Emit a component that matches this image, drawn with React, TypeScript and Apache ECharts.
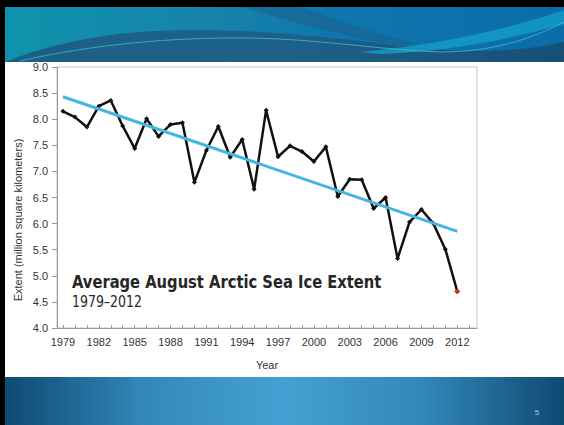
import React, { useEffect, useRef } from "react";
import * as echarts from "echarts";

const years: number[] = [
  1979, 1980, 1981, 1982, 1983, 1984, 1985, 1986, 1987, 1988, 1989, 1990,
  1991, 1992, 1993, 1994, 1995, 1996, 1997, 1998, 1999, 2000, 2001, 2002,
  2003, 2004, 2005, 2006, 2007, 2008, 2009, 2010, 2011, 2012,
];
const extent: number[] = [
  8.15, 8.04, 7.85, 8.25, 8.36, 7.87, 7.44, 8.01, 7.67, 7.9, 7.93, 6.79,
  7.4, 7.86, 7.27, 7.61, 6.66, 8.17, 7.28, 7.49, 7.38, 7.19, 7.47, 6.52,
  6.85, 6.84, 6.29, 6.5, 5.33, 6.03, 6.27, 6.0, 5.51, 4.7,
];
const trendYears: number[] = [1979, 2012];
const trendValues: number[] = [8.43, 5.85];
const xLabelYears: number[] = [1979, 1982, 1985, 1988, 1991, 1994, 1997, 2000, 2003, 2006, 2009, 2012];
const xTickYears: number[] = [
  1979, 1980, 1981, 1982, 1983, 1984, 1985, 1986, 1987, 1988, 1989, 1990,
  1991, 1992, 1993, 1994, 1995, 1996, 1997, 1998, 1999, 2000, 2001, 2002,
  2003, 2004, 2005, 2006, 2007, 2008, 2009, 2010, 2011, 2012, 2013,
];
const titleText = "Average August Arctic Sea Ice Extent";
const subtitleText = "1979\u20132012";
const yAxisName = "Extent (million square kilometers)";
const xAxisName = "Year";
const pageNumber = "5";

let registered = false;
function registerShapes() {
  if (registered) return;
  registered = true;
  echarts.graphic.registerShape(
    "waveDark",
    echarts.graphic.extendPath(
      "M5 62 C 50 44, 110 30, 190 30 C 280 30, 350 40, 420 48 C 480 54, 530 50, 564 42 L 564 62 Z",
      {}
    )
  );
  echarts.graphic.registerShape(
    "waveStreak",
    echarts.graphic.extendPath(
      "M240 7 L 300 7 C 340 20, 380 36, 420 44 L 400 46 C 340 36, 290 20, 240 7 Z",
      {}
    )
  );
  echarts.graphic.registerShape(
    "waveRight",
    echarts.graphic.extendPath(
      "M360 52 C 430 46, 500 32, 564 10 L 564 24 C 500 42, 440 52, 380 54 Z",
      {}
    )
  );
  echarts.graphic.registerShape(
    "waveLine1",
    echarts.graphic.extendPath(
      "M20 61 C 90 45, 170 37, 250 38 C 320 39, 380 50, 440 52 C 490 52, 530 40, 564 22",
      {}
    )
  );
}

export default function App() {
  const ref = useRef<HTMLDivElement>(null);
  useEffect(() => {
    if (!ref.current) return;
    registerShapes();
    const chart = echarts.init(ref.current, undefined, { renderer: "svg" });
    const LG = echarts.graphic.LinearGradient;
    const condensed = "'Liberation Sans Narrow', 'DejaVu Sans Condensed', 'Roboto Condensed', sans-serif";
    const option: any = {
      animation: false,
      backgroundColor: "#ffffff",
      grid: { left: 57, top: 67, width: 420, height: 261, show: true, borderColor: "#c4c4c4", borderWidth: 1, backgroundColor: "transparent" },
      xAxis: {
        type: "value",
        min: 1978.5,
        max: 2013.65,
        name: xAxisName,
        nameLocation: "middle",
        nameGap: 31,
        nameTextStyle: { color: "#333", fontSize: 11, fontFamily: "Liberation Sans, Arial, sans-serif" },
        axisLine: { show: true, lineStyle: { color: "#999", width: 1 } },
        axisTick: { show: true, inside: true, length: 3, customValues: xTickYears, lineStyle: { color: "#999" } },
        axisLabel: {
          customValues: xLabelYears,
          margin: 8,
          color: "#333",
          fontSize: 11,
          fontFamily: "Liberation Sans, Arial, sans-serif",
          formatter: (v: number) => String(v),
        },
        splitLine: { show: false },
      },
      yAxis: {
        type: "value",
        min: 4,
        max: 9,
        interval: 0.5,
        axisLine: { show: true, lineStyle: { color: "#999", width: 1 } },
        axisTick: { show: true, length: 5, lineStyle: { color: "#999" } },
        axisLabel: {
          margin: 9,
          color: "#333",
          fontSize: 11,
          fontFamily: "Liberation Sans, Arial, sans-serif",
          formatter: (v: number) => v.toFixed(1),
        },
        splitLine: { show: false },
      },
      series: [
        {
          type: "line",
          data: years.map((y, i) => ({
            value: [y, extent[i]],
            itemStyle: i === years.length - 1 ? { color: "#c8321e", borderColor: "#c8321e" } : undefined,
          })),
          lineStyle: { color: "#111", width: 2.5 },
          itemStyle: { color: "#111" },
          symbol: "diamond",
          symbolSize: 5,
          z: 2,
        },
        {
          type: "line",
          data: trendYears.map((y, i) => [y, trendValues[i]]),
          lineStyle: { color: "#45b6e0", width: 3 },
          symbol: "none",
          z: 3,
        },
      ],
      graphic: [
        { type: "rect", z: -10, shape: { x: 0, y: 0, width: 564, height: 7 }, style: { fill: "#000" }, silent: true },
        { type: "rect", z: -10, shape: { x: 0, y: 0, width: 5, height: 425 }, style: { fill: "#000" }, silent: true },
        {
          type: "rect", z: -9, silent: true,
          shape: { x: 5, y: 7, width: 559, height: 55 },
          style: {
            fill: new LG(0, 0, 1, 0, [
              { offset: 0, color: "#0f93ac" },
              { offset: 0.35, color: "#1684aa" },
              { offset: 0.6, color: "#0f76ad" },
              { offset: 1, color: "#0a6ca8" },
            ]),
          },
        },
        { type: "waveStreak", z: -8, silent: true, style: { fill: "#1f5f8c", opacity: 0.55 } },
        {
          type: "waveDark", z: -8, silent: true,
          style: {
            fill: new LG(0, 0, 1, 0, [
              { offset: 0, color: "#1c5e86" },
              { offset: 0.5, color: "#1d6189" },
              { offset: 1, color: "#174f75" },
            ]),
          },
        },
        { type: "waveRight", z: -7, silent: true, style: { fill: "#16a2cc", opacity: 0.75 } },
        { type: "waveLine1", z: -7, silent: true, style: { fill: "none", stroke: "#4cc4d6", lineWidth: 1, opacity: 0.7 } },
        {
          type: "rect", z: -9, silent: true,
          shape: { x: 5, y: 377, width: 559, height: 48 },
          style: {
            fill: new LG(0, 0, 1, 0, [
              { offset: 0, color: "#0e4a72" },
              { offset: 0.25, color: "#3388bb" },
              { offset: 0.5, color: "#45a1d3" },
              { offset: 0.75, color: "#3287b9" },
              { offset: 1, color: "#0f4a71" },
            ]),
          },
        },
        {
          type: "text", silent: true, x: 537, y: 412,
          style: { text: pageNumber, fill: "#9fd3ea", fontSize: 8, fontFamily: "Liberation Sans, Arial, sans-serif", align: "center", verticalAlign: "middle" },
        },
        {
          type: "text", silent: true, x: 18, y: 220, rotation: Math.PI / 2,
          style: {
            text: yAxisName, fill: "#333", fontSize: 11,
            fontFamily: "Liberation Sans, Arial, sans-serif",
            align: "center", verticalAlign: "middle",
          },
        },
        {
          type: "text", silent: true, x: 72, y: 282, scaleX: 0.91,
          style: {
            text: titleText, fill: "#262626", fontSize: 18, fontWeight: "bold",
            fontFamily: condensed,
            align: "left", verticalAlign: "middle",
          },
        },
        {
          type: "text", silent: true, x: 72, y: 302, scaleX: 0.87,
          style: {
            text: subtitleText, fill: "#262626", fontSize: 16,
            fontFamily: condensed,
            align: "left", verticalAlign: "middle",
          },
        },
      ],
    };
    chart.setOption(option);
    return () => chart.dispose();
  }, []);
  return (
    <div
      ref={ref}
      style={{ position: "fixed", left: 0, top: 0, width: 564, height: 425 }}
    />
  );
}
